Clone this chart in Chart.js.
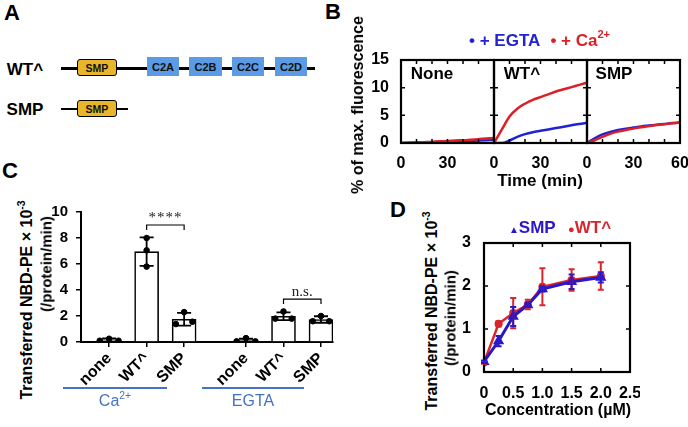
<!DOCTYPE html>
<html>
<head>
<meta charset="utf-8">
<title>Lipid transfer panels</title>
<script src="https://cdn.jsdelivr.net/npm/chart.js@4.4.1/dist/chart.umd.min.js"></script>
<style>
  body { margin: 0; background: #fff; font-family: 'Liberation Sans', Arial, sans-serif; }
  #fig { position: relative; width: 688px; height: 427px; overflow: hidden; }
  #fig canvas { position: absolute; }
  .t { position: absolute; white-space: nowrap; font-weight: bold; color: #000; line-height: 1; }
  .ctr { transform: translate(-50%, -50%); }
  .rot { transform: translate(-50%, -50%) rotate(-90deg); }
  .letter { font-size: 22px; }
  sup { font-size: 0.65em; line-height: 0; position: relative; top: -0.1em; }
  .box { position: absolute; box-sizing: border-box; display: flex; align-items: center; justify-content: center;
         font-weight: bold; font-size: 11px; color: #111; }
  .smp { background: #e8b52b; border: 1.5px solid #000; border-radius: 3px; font-size: 10.5px; }
  .c2 { background: #5b9be5; }
  .bar { position: absolute; background: #000; height: 2.5px; }
  .grp { position: absolute; background: #4472c4; height: 2px; }
  .grpt { font-weight: normal; color: #4472c4; font-size: 16px; }
</style>
</head>
<body>
<div id="fig">
  <!-- panel letters -->
  <div class="t ctr letter" style="left:12px;top:13px">A</div>
  <div class="t ctr letter" style="left:333px;top:12px">B</div>
  <div class="t ctr letter" style="left:10px;top:171px">C</div>
  <div class="t ctr letter" style="left:398px;top:210px">D</div>

  <!-- A: domain diagram -->
  <div class="t ctr" style="left:25px;top:69px;font-size:17px">WT^</div>
  <div class="bar" style="left:61px;top:67px;width:254px"></div>
  <div class="box smp" style="left:77px;top:59px;width:40px;height:17px">SMP</div>
  <div class="box c2" style="left:147px;top:57px;width:32px;height:19px">C2A</div>
  <div class="box c2" style="left:189px;top:57px;width:33px;height:19px">C2B</div>
  <div class="box c2" style="left:232px;top:57px;width:32px;height:19px">C2C</div>
  <div class="box c2" style="left:275px;top:57px;width:32px;height:19px">C2D</div>
  <div class="t ctr" style="left:25px;top:109px;font-size:17px">SMP</div>
  <div class="bar" style="left:61px;top:107.5px;width:67px"></div>
  <div class="box smp" style="left:77px;top:100px;width:40px;height:17px">SMP</div>

  <!-- B: traces -->
  <canvas id="b1" width="145" height="120" style="left:355px;top:50px"></canvas>
  <canvas id="b2" width="110" height="120" style="left:484px;top:50px"></canvas>
  <canvas id="b3" width="111" height="120" style="left:577px;top:50px"></canvas>
  <div class="t" style="left:469px;top:32px;font-size:17px">
    <span style="color:#2222d4">&bull; + EGTA</span>
    <span style="color:#dd2026;margin-left:6px">&bull; + Ca<sup>2+</sup></span>
  </div>
  <div class="t ctr" style="left:432px;top:73px;font-size:17px">None</div>
  <div class="t ctr" style="left:522px;top:73px;font-size:17px">WT^</div>
  <div class="t ctr" style="left:614px;top:73px;font-size:17px">SMP</div>
  <div class="t rot" style="left:358px;top:105px;font-size:16px">% of max. fluorescence</div>
  <div class="t ctr" style="left:540px;top:180px;font-size:17px">Time (min)</div>

  <!-- C: bars -->
  <canvas id="cChart" width="300" height="190" style="left:40px;top:200px"></canvas>
  <div class="t rot" style="left:27px;top:300px;font-size:16px">Transferred NBD-PE &times; 10<sup>-3</sup></div>
  <div class="t rot" style="left:46px;top:264px;font-size:15px">(/protein/min)</div>
  <div class="grp" style="left:63px;top:387px;width:104px"></div>
  <div class="grp" style="left:202px;top:387px;width:102px"></div>
  <div class="t ctr grpt" style="left:115px;top:401px">Ca<sup>2+</sup></div>
  <div class="t ctr grpt" style="left:253px;top:401px">EGTA</div>

  <!-- D: concentration dependence -->
  <canvas id="dChart" width="200" height="170" style="left:440px;top:233px"></canvas>
  <div class="t ctr" style="left:560px;top:227px;font-size:17px;white-space:nowrap">
    <span style="color:#2a17c8"><span style="font-size:10px">&#9650;</span>SMP</span>
    <span style="color:#d7262d;margin-left:8px"><span style="font-size:11px">&#9679;</span>WT^</span>
  </div>
  <div class="t rot" style="left:432px;top:311px;font-size:16px">Transferred NBD-PE &times; 10<sup>-3</sup></div>
  <div class="t rot" style="left:450px;top:318px;font-size:15px">(/protein/min)</div>
  <div class="t ctr" style="left:558px;top:410px;font-size:16px">Concentration (&micro;M)</div>
</div>

<script>
// ---------- B: % of max fluorescence, read every 5 min ----------
const timeMin  = [0, 5, 10, 15, 20, 25, 30, 35, 40, 45, 50, 55, 60];
const noneEgta = [0, 0.03, 0.07, 0.1, 0.15, 0.2, 0.25, 0.3, 0.35, 0.4, 0.45, 0.5, 0.55];
const noneCa   = [0, 0.05, 0.1, 0.15, 0.2, 0.3, 0.35, 0.45, 0.5, 0.6, 0.7, 0.8, 0.9];
const wtEgta   = [0, 0, 0.45, 1.1, 1.6, 1.95, 2.2, 2.45, 2.7, 2.95, 3.2, 3.45, 3.65];
const wtCa     = [0, 2.4, 4.8, 6.2, 7.1, 7.8, 8.3, 8.8, 9.3, 9.7, 10.1, 10.5, 10.9];
const smpEgta  = [0, 0.85, 1.55, 2.0, 2.35, 2.6, 2.8, 3.0, 3.15, 3.3, 3.45, 3.6, 3.7];
const smpCa    = [0, 0.5, 1.1, 1.65, 2.05, 2.35, 2.6, 2.85, 3.05, 3.25, 3.4, 3.55, 3.7];

// ---------- C: transfer rate, bars = mean +/- SD with replicates ----------
const cLabels = ['none', 'WT^', 'SMP', 'none', 'WT^', 'SMP'];
const cGroups = ['Ca2+', 'EGTA'];
const cMeans  = [0.15, 6.95, 1.75, 0.13, 1.98, 1.73];
const cSD     = [0.12, 1.10, 0.49, 0.12, 0.30, 0.25];
const cReps   = [[0.1, 0.25, 0.1], [8.0, 7.05, 5.8], [1.38, 2.3, 1.56],
                 [0.05, 0.3, 0.05], [1.8, 2.35, 1.8], [1.6, 2.0, 1.6]];
const cSigns  = [{ a: 1, b: 2, y: 9.0, text: '****' }, { a: 4, b: 5, y: 3.3, text: 'n.s.' }];

// ---------- D: transfer rate vs protein concentration ----------
const concUM  = [0, 0.25, 0.5, 0.75, 1, 1.5, 2];
const smpRate = [0.24, 0.72, 1.29, 1.56, 1.93, 2.10, 2.20];
const smpErr  = [0.03, 0.12, 0.22, 0.05, 0.06, 0.17, 0.12];
const wtRate  = [0.22, 1.12, 1.37, 1.57, 1.98, 2.14, 2.23];
const wtErr   = [0.03, 0.06, 0.35, 0.11, 0.43, 0.25, 0.32];

const BLUE = '#2222d4', RED = '#dd2026';
const tickFont = { family: "'Liberation Sans', Arial, sans-serif", size: 16, weight: 'bold' };

// box round the plot area with inward tick marks on all four sides
const frame = {
  id: 'frame',
  afterDatasetsDraw(chart) {
    const { ctx, chartArea: a, scales: { x, y } } = chart;
    const len = 4;
    ctx.save();
    ctx.strokeStyle = '#000';
    ctx.lineWidth = 1.5;
    ctx.beginPath();
    x.ticks.forEach(tk => {
      const px = x.getPixelForValue(tk.value);
      if (px < a.left + 2 || px > a.right - 2) return;
      ctx.moveTo(px, a.top); ctx.lineTo(px, a.top + len);
      ctx.moveTo(px, a.bottom); ctx.lineTo(px, a.bottom - len);
    });
    y.ticks.forEach(tk => {
      const py = y.getPixelForValue(tk.value);
      if (py < a.top + 2 || py > a.bottom - 2) return;
      ctx.moveTo(a.left, py); ctx.lineTo(a.left + len, py);
      ctx.moveTo(a.right, py); ctx.lineTo(a.right - len, py);
    });
    ctx.stroke();
    ctx.lineWidth = 2.2;
    ctx.strokeRect(a.left, a.top, a.right - a.left, a.bottom - a.top);
    ctx.restore();
  }
};

// vertical error bars with caps, one set per series
function errorBars(sets) {
  return {
    id: 'errorBars',
    afterDatasetsDraw(chart) {
      const { ctx, scales: { x, y } } = chart;
      sets.forEach(s => {
        ctx.save();
        ctx.strokeStyle = s.color;
        ctx.lineWidth = s.width;
        ctx.beginPath();
        s.xs.forEach((xv, i) => {
          const px = x.getPixelForValue(xv);
          const lo = y.getPixelForValue(s.mid[i] - s.err[i]);
          const hi = y.getPixelForValue(s.mid[i] + s.err[i]);
          ctx.moveTo(px, lo); ctx.lineTo(px, hi);
          ctx.moveTo(px - s.cap, lo); ctx.lineTo(px + s.cap, lo);
          ctx.moveTo(px - s.cap, hi); ctx.lineTo(px + s.cap, hi);
        });
        ctx.stroke();
        ctx.restore();
      });
    }
  };
}

function pts(xs, ys) { return ys.map((v, i) => ({ x: xs[i], y: v })); }

function tracePanel(id, egta, ca, shown, pad, yWidth) {
  return new Chart(document.getElementById(id), {
    type: 'line',
    data: {
      datasets: [
        { data: pts(timeMin, ca), borderColor: RED, borderWidth: 2.5 },
        { data: pts(timeMin, egta), borderColor: BLUE, borderWidth: 2.5 }
      ]
    },
    options: {
      responsive: false,
      animation: false,
      layout: { padding: pad },
      elements: { point: { radius: 0 }, line: { cubicInterpolationMode: 'monotone' } },
      plugins: { legend: { display: false }, tooltip: { enabled: false } },
      scales: {
        x: {
          type: 'linear', min: 0, max: 60,
          grid: { display: false }, border: { display: false },
          ticks: { stepSize: 10, autoSkip: false, maxRotation: 0, padding: 3, color: '#000', font: tickFont,
                   callback: v => shown.includes(v) ? String(v) : '' },
          afterFit: s => { s.height = 27; s.paddingLeft = 0; s.paddingRight = 0; }
        },
        y: {
          min: 0, max: 15,
          grid: { display: false }, border: { display: false },
          ticks: { stepSize: 5, display: yWidth > 0, padding: 4, color: '#000', font: tickFont },
          afterFit: s => { s.width = yWidth; s.paddingTop = 0; s.paddingBottom = 0; }
        }
      }
    },
    plugins: [frame]
  });
}

tracePanel('b1', noneEgta, noneCa, [0, 30], { top: 10, right: 6, left: 0, bottom: 0 }, 46);
tracePanel('b2', wtEgta, wtCa, [0, 30], { top: 10, right: 7, left: 10, bottom: 0 }, 0);
tracePanel('b3', smpEgta, smpCa, [0, 30, 60], { top: 10, right: 8, left: 10, bottom: 0 }, 0);

// ---------- C ----------
const groupStep = 3.65;  // distance between first bars of the two groups, in bar slots
const cX = cLabels.map((_, i) => Math.floor(i / 3) * groupStep + (i % 3));
const spread = [0.25, 0, 0.22, 0.25, 0.22, 0.22];
const cDots = [];
cReps.forEach((r, i) => r.forEach((v, k) => cDots.push({ x: cX[i] + (k - 1) * spread[i], y: v })));

const signif = {
  id: 'signif',
  afterDatasetsDraw(chart) {
    const { ctx, scales: { x, y } } = chart;
    ctx.save();
    ctx.strokeStyle = '#000';
    ctx.fillStyle = '#222';
    ctx.lineWidth = 1.2;
    ctx.font = "15px 'Liberation Serif', 'Times New Roman', serif";
    ctx.textAlign = 'center';
    ctx.textBaseline = 'alphabetic';
    cSigns.forEach(s => {
      const x1 = x.getPixelForValue(cX[s.a]), x2 = x.getPixelForValue(cX[s.b]);
      const py = y.getPixelForValue(s.y);
      ctx.beginPath();
      ctx.moveTo(x1, py + 5); ctx.lineTo(x1, py); ctx.lineTo(x2, py); ctx.lineTo(x2, py + 5);
      ctx.stroke();
      ctx.letterSpacing = s.text === '****' ? '1px' : '0px';
      ctx.fillText(s.text, (x1 + x2) / 2, py - 3);
    });
    ctx.restore();
  }
};

new Chart(document.getElementById('cChart'), {
  type: 'bar',
  data: {
    datasets: [
      { type: 'scatter', data: cDots, backgroundColor: '#000', borderColor: '#000', pointRadius: 2.8, order: 0 },
      { data: pts(cX, cMeans), backgroundColor: '#fff', borderColor: '#000', borderWidth: 1.6,
        barThickness: 24, order: 1 }
    ]
  },
  options: {
    responsive: false,
    animation: false,
    layout: { padding: { top: 12, right: 7, left: 0, bottom: 0 } },
    plugins: { legend: { display: false }, tooltip: { enabled: false } },
    scales: {
      x: {
        type: 'linear', min: -0.75, max: 5.97, offset: false,
        grid: { display: true, drawOnChartArea: false, offset: false, tickLength: 5, color: '#000', lineWidth: 1.5 },
        border: { display: true, color: '#000', width: 2 },
        afterBuildTicks: s => { s.ticks = cX.map(v => ({ value: v })); },
        ticks: { autoSkip: false, minRotation: 45, maxRotation: 45, padding: 2, color: '#000',
                 font: { family: tickFont.family, size: 16, weight: 'bold' },
                 callback: (v, i) => cLabels[i] },
        afterFit: s => { s.height = 48; s.paddingLeft = 0; s.paddingRight = 0; }
      },
      y: {
        min: 0, max: 10,
        grid: { display: true, drawOnChartArea: false, tickLength: 5, color: '#000', lineWidth: 1.5 },
        border: { display: true, color: '#000', width: 2 },
        ticks: { stepSize: 2, padding: 8, color: '#000', font: { family: tickFont.family, size: 15, weight: 'bold' } },
        afterFit: s => { s.width = 41; s.paddingTop = 0; s.paddingBottom = 0; }
      }
    }
  },
  plugins: [errorBars([{ xs: cX, mid: cMeans, err: cSD, color: '#000', width: 1.8, cap: 7 }]), signif]
});

// ---------- D ----------
const D_BLUE = '#2a17c8', D_RED = '#d7262d';
new Chart(document.getElementById('dChart'), {
  type: 'line',
  data: {
    datasets: [
      { label: 'SMP', data: pts(concUM, smpRate), borderColor: D_BLUE, backgroundColor: D_BLUE,
        borderWidth: 3, pointStyle: 'triangle', pointRadius: 3.5 },
      { label: 'WT^', data: pts(concUM, wtRate), borderColor: D_RED, backgroundColor: D_RED,
        borderWidth: 2.5, pointStyle: 'circle', pointRadius: 2.8 }
    ]
  },
  options: {
    responsive: false,
    animation: false,
    layout: { padding: { top: 10, right: 10, left: 0, bottom: 0 } },
    elements: { line: { tension: 0 } },
    plugins: { legend: { display: false }, tooltip: { enabled: false } },
    scales: {
      x: {
        type: 'linear', min: 0, max: 2.5,
        grid: { display: false }, border: { display: false },
        ticks: { stepSize: 0.5, autoSkip: false, maxRotation: 0, padding: 4, color: '#000', font: tickFont },
        afterFit: s => { s.height = 31; s.paddingLeft = 0; s.paddingRight = 0; }
      },
      y: {
        min: 0, max: 3,
        grid: { display: false }, border: { display: false },
        ticks: { stepSize: 1, padding: 5, color: '#000', font: tickFont },
        afterFit: s => { s.width = 44; s.paddingTop = 0; s.paddingBottom = 0; }
      }
    }
  },
  plugins: [frame, errorBars([
    { xs: concUM, mid: wtRate, err: wtErr, color: D_RED, width: 2, cap: 3 },
    { xs: concUM, mid: smpRate, err: smpErr, color: D_BLUE, width: 2, cap: 3 }
  ])]
});
</script>
</body>
</html>
